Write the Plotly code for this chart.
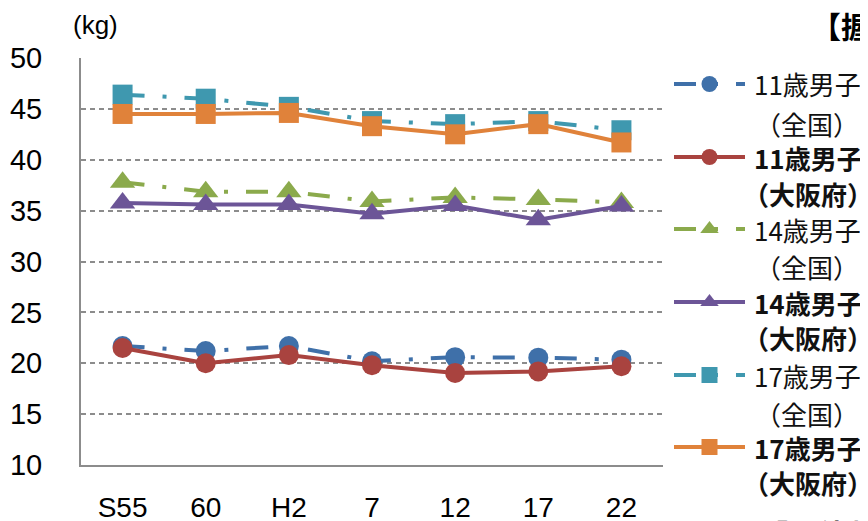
import plotly.graph_objects as go

# ---------------- data ----------------
categories = ["S55", "60", "H2", "7", "12", "17", "22"]
y_ticks = [10, 15, 20, 25, 30, 35, 40, 45, 50]

boys11_national = [21.7, 21.2, 21.7, 20.2, 20.6, 20.55, 20.35]
boys11_osaka = [21.5, 20.0, 20.8, 19.8, 19.05, 19.2, 19.7]
boys14_national = [37.8, 36.85, 36.85, 35.9, 36.3, 36.1, 35.8]
boys14_osaka = [35.75, 35.6, 35.6, 34.7, 35.5, 34.1, 35.45]
boys17_national = [46.4, 46.0, 45.2, 43.8, 43.5, 43.8, 42.9]
boys17_osaka = [44.5, 44.5, 44.6, 43.3, 42.5, 43.5, 41.7]

legend_line1 = ["11歳男子", "11歳男子", "14歳男子", "14歳男子", "17歳男子", "17歳男子"]
legend_line2 = ["（全国）", "（大阪府）", "（全国）", "（大阪府）", "（全国）", "（大阪府）"]
unit_label = "(kg)"
title_text = "【握力】"
next_title_text = "【上体起こし】"

# ---------------- style ----------------
OFF = 8                      # page body margin
W, H = 868 - OFF, 521 - OFF
L, R, T, B = 81 - OFF, 205, 58 - OFF, 56
PW, PH = W - L - R, H - T - B


def xp(sx):
    return (sx - OFF - L) / PW


def yp(sy):
    return (H - B - (sy - OFF)) / PH


colors = ["#3F70A9", "#A9433F", "#8BAA4C", "#6C5597", "#3F98AF", "#E0823A"]
symbols = ["circle", "circle", "triangle-up", "triangle-up", "square", "square"]
msizes = [20, 20, 22, 22, 20, 20]
dashdot = "22px,18px,4px,18px"
dashes = [dashdot, "solid", dashdot, "solid", dashdot, "solid"]
data = [boys11_national, boys11_osaka, boys14_national, boys14_osaka,
        boys17_national, boys17_osaka]

legend_y = [84, 157, 229, 302, 375, 447]
line2_dy = [39, 36, 37, 36, 38, 35]
national = [True, False, True, False, True, False]

fig = go.Figure()
for i in range(6):
    lg = "legend" if i == 0 else f"legend{i + 1}"
    fig.add_trace(go.Scatter(
        x=categories, y=data[i], name=" ",
        mode="lines+markers",
        line=dict(color=colors[i], width=4, dash=dashes[i]),
        marker=dict(symbol=symbols[i], size=msizes[i], color=colors[i],
                    line=dict(width=0)),
        legend=lg, showlegend=True,
    ))

layout_legends = {}
for i in range(6):
    key = "legend" if i == 0 else f"legend{i + 1}"
    layout_legends[key] = dict(
        x=xp(669), y=yp(legend_y[i]), xanchor="left", yanchor="middle",
        bgcolor="rgba(0,0,0,0)", borderwidth=0, itemwidth=71,
        font=dict(size=10, family="Liberation Sans"),
        itemclick=False, itemdoubleclick=False,
    )

annotations = []
fontjp = "Noto Sans CJK JP, sans-serif"
for i in range(6):
    txt1 = legend_line1[i] if national[i] else f"<b>{legend_line1[i]}</b>"
    txt2 = legend_line2[i] if national[i] else f"<b>{legend_line2[i]}</b>"
    annotations.append(dict(
        text=txt1, xref="paper", yref="paper", x=xp(752), y=yp(legend_y[i]),
        xanchor="left", yanchor="middle", showarrow=False,
        font=dict(size=26, family=fontjp, color="#111111")))
    annotations.append(dict(
        text=txt2, xref="paper", yref="paper",
        x=xp(753 if national[i] else 741), y=yp(legend_y[i] + line2_dy[i]),
        xanchor="left", yanchor="middle", showarrow=False,
        font=dict(size=26, family=fontjp, color="#111111")))

annotations.append(dict(
    text=unit_label, xref="paper", yref="paper", x=xp(95), y=yp(25),
    xanchor="center", yanchor="middle", showarrow=False,
    font=dict(size=26, family="Liberation Sans, Arial, sans-serif", color="#000")))
annotations.append(dict(
    text=f"<b>{title_text}</b>", xref="paper", yref="paper", x=xp(809), y=yp(25),
    xanchor="left", yanchor="middle", showarrow=False,
    font=dict(size=30, family=fontjp, color="#000")))
annotations.append(dict(
    text=f"<b>{next_title_text}</b>", xref="paper", yref="paper", x=xp(756), y=yp(533),
    xanchor="left", yanchor="middle", showarrow=False,
    font=dict(size=30, family=fontjp, color="#000")))

fig.update_layout(
    width=W, height=H,
    margin=dict(l=L, r=R, t=T, b=B, pad=0, autoexpand=False),
    paper_bgcolor="white", plot_bgcolor="white",
    annotations=annotations,
    **layout_legends,
)

fig.update_xaxes(
    type="category", range=[-0.5, 6.5], automargin=False,
    showline=True, linecolor="#8C8C8C", linewidth=2,
    showgrid=False, ticks="", ticklabelstandoff=16,
    tickfont=dict(size=28, family="Liberation Sans, Arial, sans-serif", color="#000"),
)
fig.update_yaxes(
    range=[10, 50], tickvals=y_ticks, ticktext=[str(v) for v in y_ticks],
    automargin=False,
    showline=True, linecolor="#8C8C8C", linewidth=2,
    showgrid=True, gridcolor="#8C8C8C", gridwidth=1.5, griddash="5px,4px",
    zeroline=False, ticks="", ticklabelstandoff=31,
    tickfont=dict(size=29, family="Liberation Sans, Arial, sans-serif", color="#000"),
)

fig.write_html("out.html")
